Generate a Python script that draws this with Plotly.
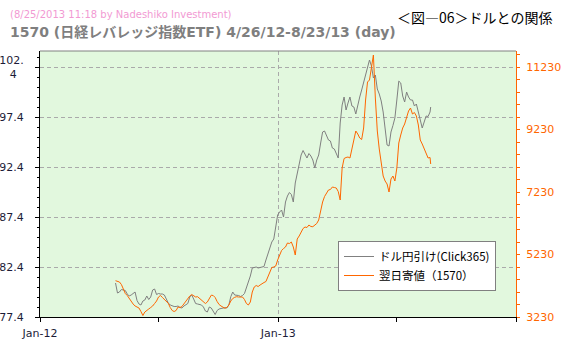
import pandas as pd
import plotly.graph_objects as go

# Sampling dates: every third calendar day from the first session, plus the last session
dates = list(pd.date_range("2012-04-26", periods=162, freq="3D")) + [pd.Timestamp("2013-08-23")]

# USD/JPY close (Click365), left axis
usdjpy = [
    80.80, 79.80, 79.90, 80.15, 80.10, 80.05, 79.70, 79.50, 79.60, 79.77,
    79.90, 79.05, 78.70, 78.60, 79.00, 79.10, 79.50, 79.15, 79.40, 80.10,
    80.20, 79.65, 79.75, 79.70, 79.70, 79.60, 79.15, 78.80, 78.60, 78.50,
    78.45, 78.45, 78.50, 78.35, 78.30, 78.50, 78.65, 78.75, 79.40, 79.60,
    79.20, 78.75, 78.70, 78.65, 78.60, 78.40, 78.00, 77.90, 78.40, 78.30,
    77.90, 77.65, 78.05, 78.20, 78.25, 78.30, 78.33, 78.30, 78.60, 79.43,
    79.90, 79.60, 79.60, 79.55, 79.45, 79.55, 79.75, 80.30, 81.00, 81.50,
    82.30, 82.35, 82.40, 82.30, 82.35, 82.43, 82.45, 83.10, 83.70, 84.40,
    84.90, 85.20, 86.40, 87.60, 87.90, 88.10, 87.40, 88.90, 89.50, 89.85,
    89.65, 88.90, 90.80, 91.70, 92.70, 93.60, 94.05, 93.60, 93.30, 93.75,
    93.50, 93.10, 92.30, 93.10, 93.60, 94.80, 95.90, 96.00, 95.50, 95.10,
    95.00, 94.30, 94.20, 93.70, 93.30, 96.80, 98.60, 99.40, 98.10, 98.80,
    99.40, 98.50, 98.40, 97.70, 98.70, 99.40, 100.10, 100.90, 101.65, 102.40,
    103.10, 102.50, 101.30, 101.60, 100.20, 99.70, 99.00, 97.90, 96.40, 94.60,
    94.50, 95.90, 96.55, 97.30, 99.10, 100.99, 100.80, 99.50, 98.90, 99.90,
    99.40, 99.10, 99.10, 98.50, 98.70, 98.00, 97.10, 96.30, 96.90, 97.50,
    97.45, 97.90, 98.40,
]

# 1570 next-day opening price, right axis
etf1570 = [
    4392, 4382, 4350, 4270, 4148, 3982, 3918, 3822, 3720, 3646,
    3582, 3550, 3518, 3406, 3278, 3390, 3454, 3486, 3534, 3582,
    3662, 3742, 3870, 3918, 3854, 3790, 3726, 3668, 3534, 3438,
    3406, 3438, 3550, 3534, 3566, 3646, 3758, 3822, 3902, 3950,
    3902, 3870, 3880, 3822, 3774, 3710, 3662, 3710, 3822, 3928,
    3918, 3854, 3726, 3630, 3582, 3534, 3508, 3540, 3614, 3742,
    3822, 3860, 3880, 3870, 3860, 3870, 3790, 3662, 3614, 3710,
    4030, 4190, 4238, 4206, 4254, 4308, 4334, 4366, 4510, 4702,
    4814, 4830, 4862, 5054, 5214, 5358, 5422, 5470, 5598, 5582,
    5630, 5470, 5214, 5726, 5822, 5966, 6062, 6110, 6094, 6174,
    6126, 6120, 6174, 6222, 6334, 6654, 6910, 7086, 7182, 7294,
    7310, 7390, 7374, 7358, 7246, 6974, 7998, 8302, 8334, 8350,
    8318, 8606, 8958, 9182, 9086, 8958, 8910, 9278, 10174, 10750,
    10814, 11198, 11614, 10238, 9182, 8606, 8158, 7742, 7582, 7486,
    7230, 7646, 7742, 7582, 7998, 8798, 9054, 9278, 9406, 9630,
    9822, 9918, 9726, 9774, 9662, 9374, 8894, 8766, 8606, 8414,
    8318, 8334, 8126,
]

left_ticks = [77.4, 82.4, 87.4, 92.4, 97.4, 102.4]
left_labels = ["77.4", "82.4", "87.4", "92.4", "97.4", "102.<br>4\u00a0\u00a0"]
right_ticks = [3230, 5230, 7230, 9230, 11230]
right_labels = ["3230", "5230", "7230", "9230", "11230"]
x_major = ["2012-01-01", "2013-01-01", "2014-01-01"]
x_major_labels = ["Jan-12", "Jan-13", ""]
x_minor = ["2012-07-01", "2013-07-01"]

FONT = "DejaVu Sans, Noto Sans CJK JP, sans-serif"
CJK = "Noto Sans CJK JP, DejaVu Sans, sans-serif"
ORANGE = "#ff6600"
GRAY = "#808080"
LABEL = "#1c1c38"

# plot area in page pixels
L, R, T, B = 40, 516, 51, 317


def px_x(x):
    return (x - L) / (R - L)


def px_y(y):
    return (B - y) / (B - T)


fig = go.Figure()
fig.add_trace(go.Scatter(
    x=dates, y=usdjpy, mode="lines", name="ドル円引け(Click365)",
    line=dict(color=GRAY, width=1), yaxis="y",
))
fig.add_trace(go.Scatter(
    x=dates, y=etf1570, mode="lines", name="翌日寄値（1570）",
    line=dict(color=ORANGE, width=1), yaxis="y2",
))

fig.update_layout(
    width=566, height=349,
    margin=dict(l=L, r=566 - R, t=T, b=349 - B),
    paper_bgcolor="white",
    plot_bgcolor="#e2f8de",
    font=dict(family=FONT, size=11, color=LABEL),
    showlegend=True,
    legend=dict(
        x=px_x(338), y=px_y(241), xanchor="left", yanchor="top",
        bgcolor="white", bordercolor=GRAY, borderwidth=1,
        font=dict(family=CJK, size=11.5, color="#000000"),
        tracegroupgap=0,
    ),
    xaxis=dict(
        type="date", range=["2012-01-01", "2014-01-01"],
        tickvals=x_major, ticktext=x_major_labels,
        ticks="outside", ticklen=4, tickcolor="#000000",
        showline=True, linecolor="#000000", linewidth=1,
        showgrid=True, gridcolor="#aaaaaa", griddash="4px,3px", gridwidth=1,
        minor=dict(tickvals=x_minor, ticks="outside", ticklen=4,
                   tickcolor="#000000", showgrid=False),
        zeroline=False, tickfont=dict(size=11, color=LABEL),
        ticklabelstandoff=2, automargin=False,
    ),
    yaxis=dict(
        range=[77.4, 104.0], tickvals=left_ticks, ticktext=left_labels,
        ticks="outside", ticklen=4, tickcolor="#000000",
        showline=True, linecolor="#000000", linewidth=1,
        showgrid=True, gridcolor="#aaaaaa", griddash="4px,3px", gridwidth=1,
        minor=dict(dtick=1, tick0=77.4, ticks="outside", ticklen=2,
                   tickcolor="#000000", showgrid=False),
        zeroline=False, tickfont=dict(size=11, color=LABEL),
        ticklabelstandoff=9, automargin=False,
    ),
    yaxis2=dict(
        overlaying="y", side="right", range=[3230, 11742],
        tickvals=right_ticks, ticktext=right_labels,
        ticks="outside", ticklen=3, tickcolor=ORANGE,
        showline=True, linecolor=ORANGE, linewidth=1, showgrid=False,
        minor=dict(dtick=400, tick0=3230, ticks="outside", ticklen=3,
                   tickcolor=ORANGE, showgrid=False),
        zeroline=False, tickfont=dict(size=11, color=ORANGE),
        ticklabelstandoff=4, automargin=False,
    ),
    shapes=[dict(type="line", xref="paper", yref="paper", x0=0, x1=1, y0=1, y1=1,
                 line=dict(color=GRAY, width=1))],
    annotations=[
        dict(text="(8/25/2013 11:18 by Nadeshiko Investment)", xref="paper", yref="paper",
             x=px_x(8), y=px_y(15), xanchor="left", yanchor="middle", showarrow=False,
             font=dict(family=FONT, size=10, color="#f29ad3")),
        dict(text="<b>1570 (日経レバレッジ指数ETF) 4/26/12-8/23/13 (day)</b>", xref="paper", yref="paper",
             x=px_x(8), y=px_y(31.5), xanchor="left", yanchor="middle", showarrow=False,
             font=dict(family=FONT, size=14, color="#7f7f7f")),
        dict(text="＜図―06＞ドルとの関係", xref="paper", yref="paper",
             x=px_x(395), y=px_y(17), xanchor="left", yanchor="middle", showarrow=False,
             font=dict(family=CJK, size=14, color="#000000")),
    ],
)

fig.write_html("out.html")
